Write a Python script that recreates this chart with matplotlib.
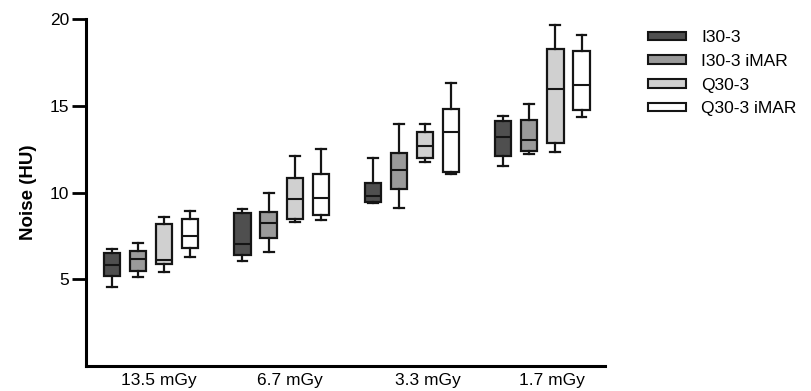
import matplotlib
matplotlib.use("Agg")
import matplotlib.pyplot as plt
from matplotlib.patches import Patch

plt.rcParams['font.family'] = ['Liberation Sans', 'DejaVu Sans']

doses = ["13.5 mGy", "6.7 mGy", "3.3 mGy", "1.7 mGy"]
series = ["I30-3", "I30-3 iMAR", "Q30-3", "Q30-3 iMAR"]
colors = ["#4f4f4f", "#9a9a9a", "#d0d0d0", "#ffffff"]

# per series: values per dose group [whisker low, q1, median, q3, whisker high]
i30 = [[4.58, 5.19, 5.83, 6.54, 6.73],
       [6.06, 6.39, 7.06, 8.81, 9.04],
       [9.42, 9.48, 9.83, 10.54, 12.0],
       [11.56, 12.10, 13.20, 14.15, 14.44]]
i30_imar = [[5.15, 5.50, 6.16, 6.65, 7.12],
            [6.56, 7.37, 8.27, 8.87, 9.96],
            [9.10, 10.21, 11.31, 12.27, 13.96],
            [12.25, 12.41, 13.04, 14.21, 15.14]]
q30 = [[5.44, 5.87, 6.12, 8.19, 8.60],
       [8.33, 8.48, 9.65, 10.87, 12.12],
       [11.79, 12.02, 12.69, 13.48, 13.98],
       [12.35, 12.87, 15.97, 18.31, 19.68]]
q30_imar = [[6.31, 6.83, 7.52, 8.46, 8.93],
            [8.42, 8.71, 9.71, 11.06, 12.54],
            [11.06, 11.21, 13.52, 14.83, 16.35],
            [14.35, 14.75, 16.23, 18.18, 19.10]]
all_series = [i30, i30_imar, q30, q30_imar]

fig = plt.figure(figsize=(8.12, 3.91), dpi=100)
ax = fig.add_axes([86/812, 1-366/391, (605-86)/812, (366-19.3)/391])

for s, data in enumerate(all_series):
    stats = []
    pos = []
    for g, (lo, q1, med, q3, hi) in enumerate(data):
        stats.append(dict(whislo=lo, q1=q1, med=med, q3=q3, whishi=hi, fliers=[]))
        pos.append(g * 5 + s)
    ax.bxp(stats, positions=pos, widths=0.62, patch_artist=True, showfliers=False,
           capwidths=0.38,
           boxprops=dict(facecolor=colors[s], edgecolor="#151515", linewidth=1.6),
           medianprops=dict(color="#151515", linewidth=1.5),
           whiskerprops=dict(color="#151515", linewidth=1.6),
           capprops=dict(color="#151515", linewidth=1.6))

ax.set_xlim(-1.0, 18.9)
ax.set_ylim(0, 20)
ax.set_yticks([5, 10, 15, 20])
ax.set_xticks([1.8, 6.8, 12.1, 16.85])
ax.set_xticklabels(doses, fontsize=12.5)
ax.tick_params(axis='x', length=0, pad=5)
ax.tick_params(axis='y', length=10, width=2, labelsize=12.5, pad=2)
for sp in ['top', 'right']:
    ax.spines[sp].set_visible(False)
for sp in ['left', 'bottom']:
    ax.spines[sp].set_linewidth(2.2)
ax.set_ylabel("Noise (HU)", fontsize=13.5, fontweight='bold', labelpad=9)

handles = [Patch(facecolor=c, edgecolor="#151515", linewidth=1.5) for c in colors]
fig.legend(handles, series, loc='upper left', bbox_to_anchor=(643/812, 1-25/391),
           frameon=False, fontsize=12.5, handlelength=2.2, handleheight=0.4,
           handletextpad=0.85, labelspacing=0.5, borderaxespad=0, borderpad=0.3)

fig.savefig("out.png", dpi=100)
